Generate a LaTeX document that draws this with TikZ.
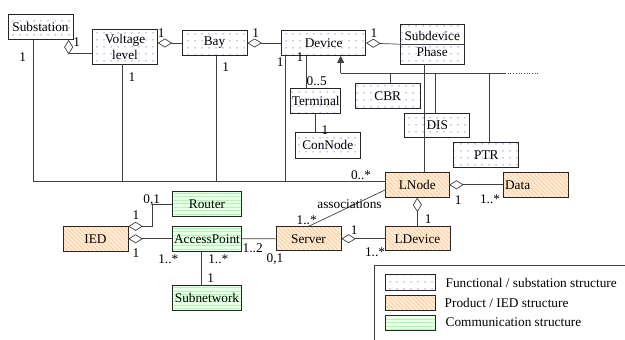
\documentclass[tikz,border=0pt]{standalone}
\usepackage{fontspec}
\setmainfont{Liberation Serif}
\usetikzlibrary{arrows.meta,patterns.meta}

\tikzset{
  box/.style={draw=black!85, line width=0.7pt, minimum width=65pt, minimum height=25pt,
    inner sep=1pt, font=\fontsize{13.3}{15.6}\selectfont, align=center},
  func/.style={box, preaction={fill=white}, pattern={Dots[distance=6.5pt,radius=0.8pt]}, pattern color=blue!45},
  prod/.style={box, preaction={fill=orange!15}, pattern={Lines[angle=-45,distance=3pt,line width=0.5pt]}, pattern color=orange!50},
  comm/.style={box, preaction={fill=green!7}, pattern={Lines[angle=0,distance=3.5pt,line width=0.6pt]}, pattern color=green!35},
  conn/.style={draw=black!75, line width=0.7pt},
  agg/.style={conn, -{Diamond[fill=white,length=14.5pt,width=9pt]}},
  gen/.style={conn, -{Triangle[length=7pt,width=7pt]}},
  mult/.style={font=\fontsize{13.3}{15}\selectfont, inner sep=0pt},
}

\begin{document}
\begin{tikzpicture}[x=1pt, y=-1pt]
\useasboundingbox (0,0) rectangle (625,340);

% substation side
\node[func] (sub) at (40.5,27) {Substation};
\node[func, minimum width=64.6pt, minimum height=34.7pt] (vlev) at (125,46.7) {Voltage\\level};
\node[func] (bay) at (214.5,43) {Bay};
\node[func, minimum width=84pt] (dev) at (323.7,43) {Device};
\node[func, minimum width=64.3pt, minimum height=39.7pt] (subdev) at (432.2,44.2) {Subdevice\\Phase};
\node[func, minimum width=50pt] (term) at (315.7,100.8) {Terminal};
\node[func, minimum width=64.3pt, minimum height=26pt] (cnode) at (327.8,145.3) {ConNode};
\node[func] (cbr) at (387.7,95.8) {CBR};
\node[func, minimum height=24pt] (dis) at (437.3,125.3) {DIS};
\node[func] (ptr) at (486.3,155) {PTR};

% product side
\node[prod, minimum width=63.3pt] (lnode) at (417.3,184.8) {LNode};
\node[prod, text width=62.3pt, align=left] (data) at (536.2,184.8) {Data};
\node[prod, minimum height=24pt] (ldev) at (417.5,238.7) {LDevice};
\node[prod, minimum height=24pt] (srv) at (308.5,238.7) {Server};
\node[prod] (ied) at (95.5,239.2) {IED};

% communication
\node[comm, minimum width=69.4pt] (ap) at (207,238.8) {AccessPoint};
\node[comm, minimum width=69.4pt] (router) at (207,204.2) {Router};
\node[comm, minimum width=69.4pt] (subnet) at (207,297.8) {Subnetwork};

% aggregations
\draw[agg] ([yshift=10.7pt]vlev.south west) -| ([xshift=-4.7pt]sub.south east)
  node[mult] at (76.7,42) {1};
\draw[agg] (bay.west) -- (vlev.east |- bay.west) node[mult] at (161.3,32.7) {1};
\draw[agg] (dev.west) -- (bay.east) node[mult] at (255.7,32.7) {1};
\draw[agg] (subdev.west) -- (dev.east) node[mult] at (374,32.7) {1};
\draw[conn] (subdev.west) -- (subdev.east);
\draw[agg] (data.west) -- (lnode.east) node[mult] at (458.3,200) {1} node[mult] at (490,199) {1..*};
\draw[agg] (ldev.north) -- (lnode.south) node[mult] at (428.3,219.3) {1};
\draw[agg] (ldev.west) -- (srv.east) node[mult] at (354.3,230) {1} node[mult] at (375,252.7) {1..*};
\draw[agg] (ap.west) -- (ied.east |- ap.west) node[mult] at (136,253.3) {1} node[mult] at (168.3,259.3) {1..*};
\draw[agg] (router.west) -- ++(-19.6,0) |- (ied.north east)
  node[mult] at (136,215) {1} node[mult] at (151.7,200) {0,1};

% lines to LNode
\coordinate (bus) at ([yshift=3pt]lnode.west);
\draw[conn] ([xshift=-7.2pt]sub.south) |- (bus) node[mult] at (22.7,57.3) {1} node[mult] at (361,175) {0..*};
\draw[conn] ([xshift=-2.3pt]vlev.south) -- ([xshift=-2.3pt]vlev.south |- bus) node[mult] at (132,77.3) {1};
\draw[conn] ([xshift=2.2pt]bay.south) -- ([xshift=2.2pt]bay.south |- bus) node[mult] at (225.7,66.7) {1};
\draw[conn] ([xshift=4.3pt]dev.south west) -- ([xshift=4.3pt]dev.south west |- bus) node[mult] at (280.3,61.7) {1};
\draw[conn] ([xshift=-8pt]subdev.south) -- ([xshift=-8pt]subdev.south |- lnode.north);
\draw[conn] ([yshift=-5pt]lnode.west) -- (srv.north)
  node[mult] at (349.5,204.5) {associations} node[mult] at (306.7,220.7) {1..*};

% terminals
\draw[conn] ([xshift=-9.7pt]term.north |- dev.south) -- ([xshift=-9.7pt]term.north)
  node[mult] at (300,57.3) {1} node[mult] at (316.7,81) {0..5};
\draw[conn] (term.south) -- (term.south |- cnode.north) node[mult] at (325,130.5) {1};

% specialisation of Device
\coordinate (gb) at ([xshift=17pt]dev.south |- 0,73.3);
\coordinate (ge) at (505,73.3);
\draw[gen] (gb) -- (gb |- dev.south);
\draw[conn] (gb) -- (ge);
\draw[conn, dotted] (ge) -- ++(33.3,0);
\draw[conn] (cbr.north -| 390,0) -- (gb -| 390,0);
\draw[conn] (dis.north -| 435,0) -- (gb -| 435,0);
\draw[conn] (ptr.north -| 489,0) -- (gb -| 489,0);

% communication links
\draw[conn] (ap.east) -- (srv.west) node[mult] at (252.7,248.3) {1..2} node[mult] at (275,259.3) {0,1};
\draw[conn] ([xshift=-5.3pt]ap.south) -- ([xshift=-5.3pt]subnet.north)
  node[mult] at (218.3,259.3) {1..*} node[mult] at (210.7,278.3) {1};

% legend
\draw[conn] (374.7,340) |- (625,265);
\node[func, minimum width=50pt, minimum height=15.5pt] (kfunc) at (410,282.5) {};
\node[prod, minimum width=50pt, minimum height=15pt] (kprod) at (410,302.7) {};
\node[comm, minimum width=50pt, minimum height=15pt] (kcomm) at (410,322.5) {};
\node[mult, anchor=west] (tfunc) at (445.5,283) {Functional / substation structure};
\node[mult, anchor=west] (tprod) at (444.5,302.5) {Product / IED structure};
\node[mult, anchor=west] (tcomm) at (445.5,322.5) {Communication structure};
\end{tikzpicture}
\end{document}
